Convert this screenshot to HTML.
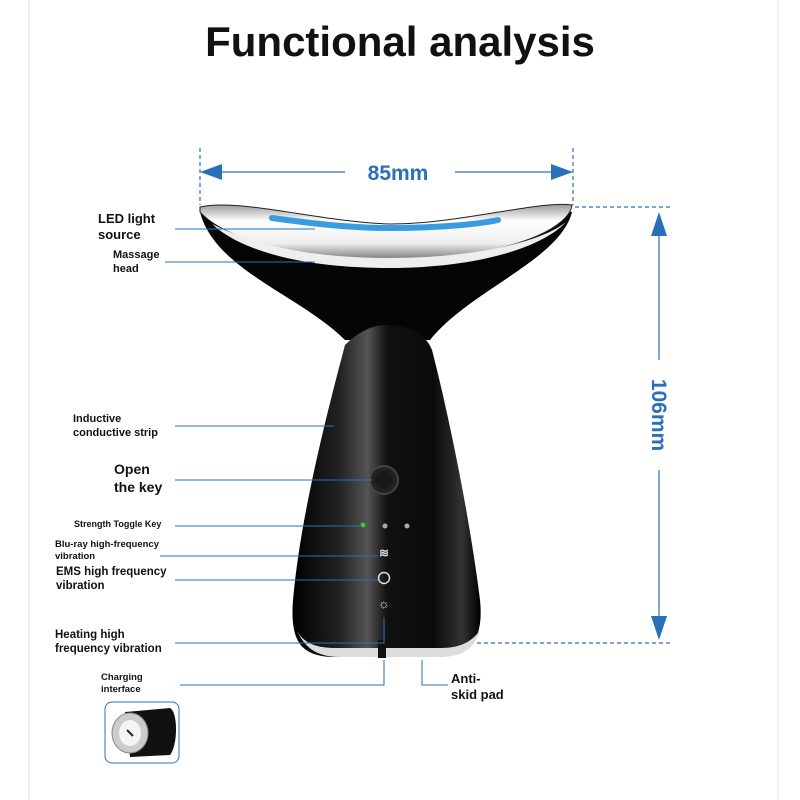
<!DOCTYPE html>
<html><head><meta charset="utf-8"><style>
body{margin:0;background:#fff;}
svg{display:block}
text{font-family:"Liberation Sans",sans-serif;font-weight:bold;fill:#111}
</style></head><body>
<svg width="800" height="800" viewBox="0 0 800 800" xmlns="http://www.w3.org/2000/svg">
<defs>
<linearGradient id="blk" x1="0" x2="1" y1="0" y2="0">
<stop offset="0" stop-color="#000"/><stop offset="0.25" stop-color="#222"/><stop offset="0.4" stop-color="#555"/><stop offset="0.5" stop-color="#111"/><stop offset="0.75" stop-color="#0a0a0a"/><stop offset="0.9" stop-color="#333"/><stop offset="1" stop-color="#000"/>
</linearGradient>
<linearGradient id="silv" x1="0" x2="0" y1="0" y2="1">
<stop offset="0" stop-color="#999"/><stop offset="0.3" stop-color="#fff"/><stop offset="0.7" stop-color="#eee"/><stop offset="1" stop-color="#777"/>
</linearGradient>
</defs>
<line x1="29" y1="0" x2="29" y2="800" stroke="#ddd"/>
<line x1="778" y1="0" x2="778" y2="800" stroke="#ddd"/>
<text x="400" y="56" font-size="42" text-anchor="middle" font-weight="bold">Functional analysis</text>

<g stroke="#2a6fba" stroke-width="1.2" fill="none">
<line x1="200" y1="148" x2="200" y2="205" stroke-dasharray="4,3"/>
<line x1="573" y1="148" x2="573" y2="205" stroke-dasharray="4,3"/>
<line x1="215" y1="172" x2="345" y2="172"/>
<line x1="455" y1="172" x2="560" y2="172"/>
<line x1="575" y1="207" x2="672" y2="207" stroke-dasharray="4,3"/>
<line x1="470" y1="643" x2="672" y2="643" stroke-dasharray="4,3"/>
<line x1="659" y1="228" x2="659" y2="360"/>
<line x1="659" y1="470" x2="659" y2="625"/>
</g>
<g fill="#2a6fba">
<polygon points="200,172 222,164 222,180"/>
<polygon points="573,172 551,164 551,180"/>
<polygon points="659,212 651,236 667,236"/>
<polygon points="659,640 651,616 667,616"/>
</g>
<text x="398" y="180" font-size="21" text-anchor="middle" style="fill:#2a6fba">85mm</text>
<text transform="translate(652,415) rotate(90)" font-size="21" text-anchor="middle" style="fill:#2a6fba">106mm</text>

<path d="M200,212 C240,205 320,222 390,226 C460,224 540,205 572,212 C560,260 470,290 430,340 L345,340 C300,295 215,270 200,212 Z" fill="#050505"/>
<path d="M345,345 C355,335 370,325 385,325 C405,325 425,332 432,350 C450,420 470,520 480,600 C484,640 470,655 440,657 L330,657 C300,655 290,640 293,600 C300,520 325,420 345,345 Z" fill="url(#blk)"/>
<path d="M297,630 C305,650 320,657 340,657 L440,657 C460,657 475,650 480,630 C470,645 455,648 440,648 L335,648 C315,648 302,642 297,630 Z" fill="#ddd"/>
<rect x="378" y="640" width="8" height="18" fill="#111"/>
<path d="M200,207 C240,198 320,222 390,224 C460,224 540,200 572,205 C570,225 520,258 390,260 C300,260 225,240 200,212 Z" fill="url(#silv)" stroke="#222" stroke-width="1"/>
<path d="M212,224 C260,248 320,258 390,258 C470,258 540,243 566,222 C540,250 470,268 390,268 C300,268 240,250 212,224 Z" fill="#eee"/>
<path d="M272,218 C330,226 360,228 390,228 C440,228 480,224 498,220" stroke="#3a9be0" stroke-width="6" stroke-linecap="round" fill="none"/>
<circle cx="384" cy="480" r="14" fill="#222" stroke="#444" stroke-width="2"/>
<circle cx="384" cy="480" r="9" fill="#1a1a1a"/>
<circle cx="363" cy="525" r="2.5" fill="#3c3"/>
<circle cx="385" cy="526" r="2.5" fill="#aaa"/>
<circle cx="407" cy="526" r="2.5" fill="#aaa"/>
<text x="384" y="557" font-size="12" text-anchor="middle" style="fill:#ddd">≋</text>
<circle cx="384" cy="578" r="5.5" fill="none" stroke="#ddd" stroke-width="1.5"/>
<text x="384" y="608" font-size="13" text-anchor="middle" style="fill:#ddd;font-weight:normal">☼</text>

<g stroke="#2a6fba" stroke-width="1" fill="none">
<line x1="175" y1="229" x2="315" y2="229"/>
<line x1="165" y1="262" x2="315" y2="262"/>
<line x1="175" y1="426" x2="334" y2="426"/>
<line x1="175" y1="480" x2="372" y2="480"/>
<line x1="175" y1="526" x2="362" y2="526"/>
<line x1="160" y1="556" x2="378" y2="556"/>
<line x1="175" y1="580" x2="378" y2="580"/>
<polyline points="175,643 384,643 384,617"/>
<polyline points="180,685 384,685 384,660"/>
<polyline points="422,660 422,685 448,685"/>
</g>

<text x="98" y="223" font-size="13">LED light</text>
<text x="98" y="239" font-size="13">source</text>
<text x="113" y="258" font-size="11">Massage</text>
<text x="113" y="272" font-size="11">head</text>
<text x="73" y="422" font-size="11">Inductive</text>
<text x="73" y="436" font-size="11">conductive strip</text>
<text x="114" y="474" font-size="14">Open</text>
<text x="114" y="492" font-size="14">the key</text>
<text x="74" y="527" font-size="9">Strength Toggle Key</text>
<text x="55" y="547" font-size="9.5">Blu-ray high-frequency</text>
<text x="55" y="559" font-size="9.5">vibration</text>
<text x="56" y="575" font-size="11.5">EMS high frequency</text>
<text x="56" y="589" font-size="11.5">vibration</text>
<text x="55" y="638" font-size="11.5">Heating high</text>
<text x="55" y="652" font-size="11.5">frequency vibration</text>
<text x="101" y="680" font-size="9.5">Charging</text>
<text x="101" y="692" font-size="9.5">interface</text>
<text x="451" y="683" font-size="13">Anti-</text>
<text x="451" y="699" font-size="13">skid pad</text>

<rect x="105" y="702" width="74" height="61" rx="7" fill="#fff" stroke="#2a6fba" stroke-width="1"/>
<path d="M125,712 L170,708 C178,712 178,745 170,755 L130,757 Z" fill="#111"/>
<ellipse cx="130" cy="733" rx="18" ry="20" fill="#ccc" stroke="#888"/>
<ellipse cx="130" cy="733" rx="11" ry="13" fill="#f4f4f4"/>
<line x1="127" y1="730" x2="133" y2="736" stroke="#222" stroke-width="2"/>
</svg>
</body></html>
